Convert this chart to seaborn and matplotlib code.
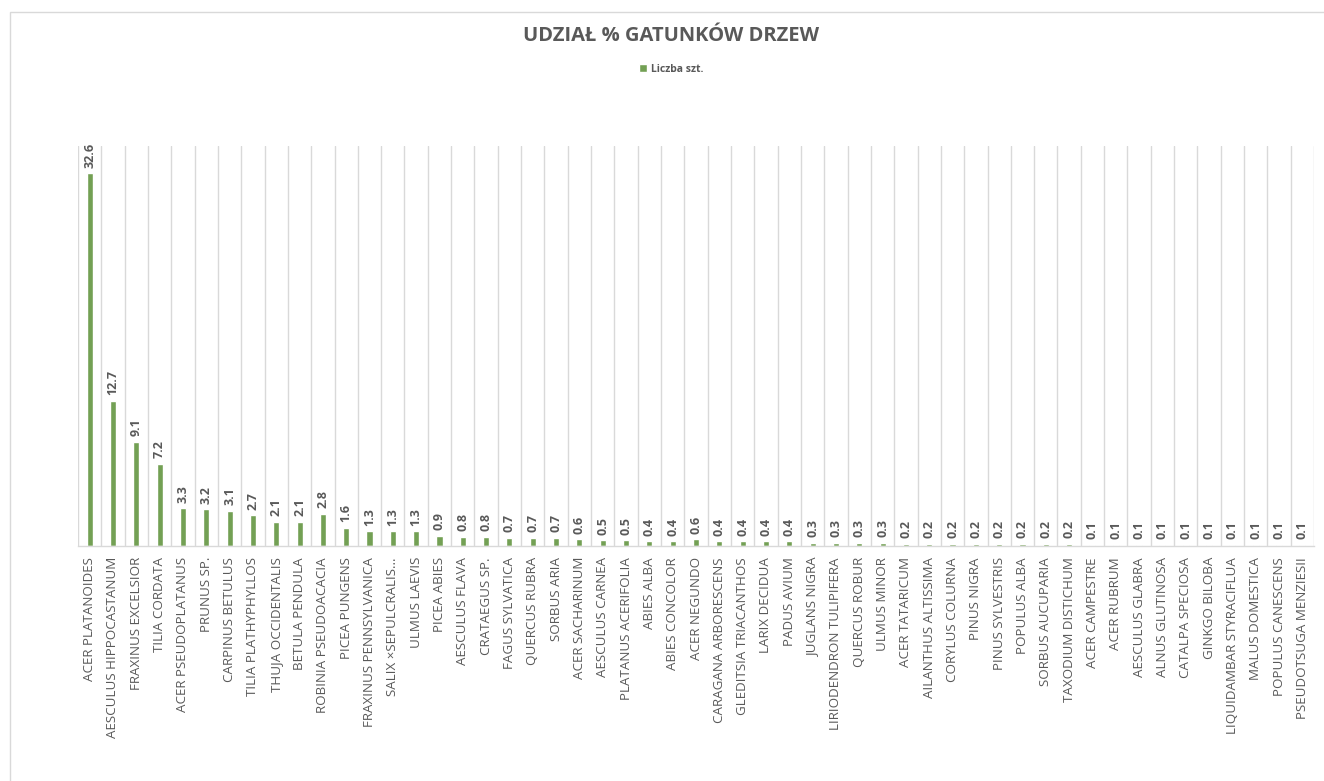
import numpy as np
import pandas as pd
import matplotlib
matplotlib.use("Agg")
import matplotlib.pyplot as plt
from matplotlib.patches import Rectangle
import seaborn as sns

species = [
    "ACER PLATANOIDES", "AESCULUS HIPPOCASTANUM", "FRAXINUS EXCELSIOR", "TILIA CORDATA",
    "ACER PSEUDOPLATANUS", "PRUNUS SP.", "CARPINUS BETULUS", "TILIA PLATHYPHYLLOS",
    "THUJA OCCIDENTALIS", "BETULA PENDULA", "ROBINIA PSEUDOACACIA", "PICEA PUNGENS",
    "FRAXINUS PENNSYLVANICA", "SALIX ×SEPULCRALIS...", "ULMUS LAEVIS", "PICEA ABIES",
    "AESCULUS FLAVA", "CRATAEGUS SP.", "FAGUS SYLVATICA", "QUERCUS RUBRA",
    "SORBUS ARIA", "ACER SACHARINUM", "AESCULUS CARNEA", "PLATANUS ACERIFOLIA",
    "ABIES ALBA", "ABIES CONCOLOR", "ACER NEGUNDO", "CARAGANA ARBORESCENS",
    "GLEDITSIA TRIACANTHOS", "LARIX DECIDUA", "PADUS AVIUM", "JUGLANS NIGRA",
    "LIRIODENDRON TULIPIFERA", "QUERCUS ROBUR", "ULMUS MINOR", "ACER TATARICUM",
    "AILANTHUS ALTISSIMA", "CORYLUS COLURNA", "PINUS NIGRA", "PINUS SYLVESTRIS",
    "POPULUS ALBA", "SORBUS AUCUPARIA", "TAXODIUM DISTICHUM", "ACER CAMPESTRE",
    "ACER RUBRUM", "AESCULUS GLABRA", "ALNUS GLUTINOSA", "CATALPA SPECIOSA",
    "GINKGO BILOBA", "LIQUIDAMBAR STYRACIFLUA", "MALUS DOMESTICA", "POPULUS CANESCENS",
    "PSEUDOTSUGA MENZIESII",
]
share = [
    32.6, 12.7, 9.1, 7.2, 3.3, 3.2, 3.1, 2.7, 2.1, 2.1, 2.8, 1.6, 1.3, 1.3, 1.3, 0.9,
    0.8, 0.8, 0.7, 0.7, 0.7, 0.6, 0.5, 0.5, 0.4, 0.4, 0.6, 0.4, 0.4, 0.4, 0.4, 0.3,
    0.3, 0.3, 0.3, 0.2, 0.2, 0.2, 0.2, 0.2, 0.2, 0.2, 0.2, 0.1, 0.1, 0.1, 0.1, 0.1,
    0.1, 0.1, 0.1, 0.1, 0.1,
]
series_name = "Liczba szt."
title = "UDZIAŁ % GATUNKÓW DRZEW"

sns.set_theme(style="white")
plt.rcParams['font.family'] = ['Open Sans', 'DejaVu Sans']

W, H = 1324, 781
fig = plt.figure(figsize=(W / 100, H / 100), dpi=100)
ax = fig.add_axes([78 / W, 1 - 546 / H, (1314 - 78) / W, (546 - 146) / H])

df = pd.DataFrame({"species": species, "share": share, "series": series_name})
GREEN = "#70AD47"
TXT = "#595959"
GRID = "#D9D9D9"

sns.barplot(data=df, x="species", y="share", hue="series", palette=[GREEN],
            width=0.26, ax=ax, legend=True)

n = len(species)
ax.set_xlim(-0.5, n - 0.5)
ax.set_ylim(0, 35)
ax.set_yticks([])
ax.set_xlabel("")
ax.set_ylabel("")
ax.set_xticks(np.arange(-0.5, n, 1.0), minor=True)
ax.grid(which="minor", axis="x", color=GRID, linewidth=1)
ax.tick_params(axis="x", which="both", length=0, pad=8)
ax.set_xticks(range(n))
ax.set_xticklabels(species, rotation=90, fontsize=9.6, color=TXT, va="top", ha="center")
for s in ["top", "right", "left"]:
    ax.spines[s].set_visible(False)
ax.spines["bottom"].set_color(GRID)
ax.spines["bottom"].set_linewidth(1)

for cont in ax.containers:
    ax.bar_label(cont, labels=[f"{v:.1f}" for v in share], rotation=90, padding=4,
                 fontsize=9, color=TXT, fontweight="bold")

leg = ax.legend(loc="center", bbox_to_anchor=(671 / W, 1 - 69 / H),
                bbox_transform=fig.transFigure, frameon=False, fontsize=7.5,
                handlelength=0.8, handleheight=0.8, handletextpad=0.4)
for t in leg.get_texts():
    t.set_color(TXT)
    t.set_fontweight("bold")

fig.text(671 / W, 1 - 36 / H, title, ha="center", va="center", fontsize=14.5,
         fontweight="bold", color=TXT)

fig.patches.append(Rectangle((10 / W, -0.05), 1.1, 1 - 12 / H + 0.05,
                             transform=fig.transFigure, fill=False,
                             edgecolor=GRID, linewidth=1))

fig.savefig("out.png", dpi=100, facecolor="white")
